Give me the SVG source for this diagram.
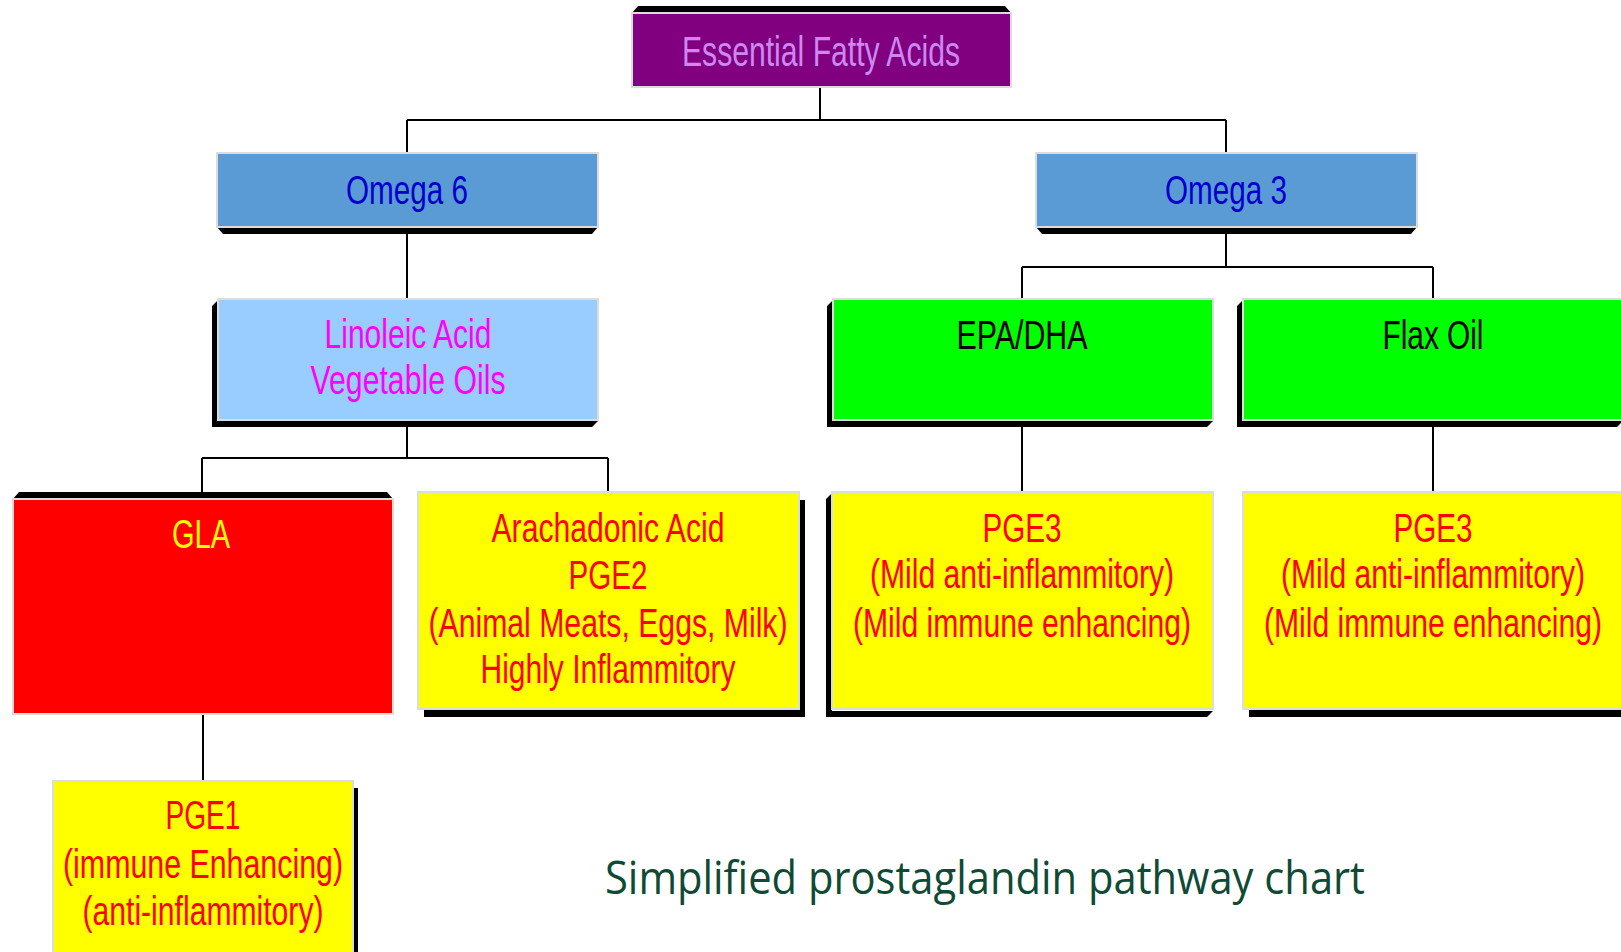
<svg xmlns="http://www.w3.org/2000/svg" width="1621" height="952" viewBox="0 0 1621 952">
<style>
.box{stroke:#dcdcdc;stroke-width:2}
.sh{fill:#000}
.t{font-family:"Liberation Sans Narrow","Liberation Sans",Arial,sans-serif;font-size:40px;text-anchor:middle}
.red{fill:#ff0000}
.cap{font-family:"Open Sans","Noto Sans",sans-serif;font-size:46px;fill:#0f4a35;text-anchor:middle}
.c{stroke:#000;stroke-width:2;fill:none}
</style>
<rect width="1621" height="952" fill="#fff"/>
<g id="connectors">
<path class="c" d="M820,87V120M407,120H1226M407,120V153M1226,120V153"/>
<path class="c" d="M407,234V299"/>
<path class="c" d="M407,427V458M202,458H608M202,458V492M608,458V492"/>
<path class="c" d="M1226,234V267M1022,267H1433M1022,267V299M1433,267V299"/>
<path class="c" d="M1022,427V492M1433,427V492"/>
<path class="c" d="M203,714V781"/>
</g>
<g id="essential">
<polygon class="sh" points="632,13 638,6 1005,6 1011,13"/>
<rect class="box" x="632" y="13" width="379" height="74" fill="#800080"/>
<text class="t" x="821" y="66" style="font-size:43px" fill="#cc88f0" textLength="278" lengthAdjust="spacingAndGlyphs">Essential Fatty Acids</text>
</g>
<g id="omega6">
<polygon class="sh" points="217,227 598,227 592,234 223,234"/>
<rect class="box" x="217" y="153" width="381" height="74" fill="#5b9bd5"/>
<text class="t" x="407" y="204" fill="#0000cc" textLength="122" lengthAdjust="spacingAndGlyphs">Omega 6</text>
</g>
<g id="omega3">
<polygon class="sh" points="1036,227 1417,227 1411,234 1042,234"/>
<rect class="box" x="1036" y="153" width="381" height="74" fill="#5b9bd5"/>
<text class="t" x="1226" y="204" fill="#0000cc" textLength="122" lengthAdjust="spacingAndGlyphs">Omega 3</text>
</g>
<g id="linoleic">
<polygon class="sh" points="218,300 212,306 212,427 592,427 598,421 218,421"/>
<rect class="box" x="218" y="299" width="380" height="121" fill="#99ccff"/>
<text class="t" x="408" y="348" fill="#ff00ff" textLength="167" lengthAdjust="spacingAndGlyphs">Linoleic Acid</text>
<text class="t" x="408" y="394" fill="#ff00ff" textLength="195" lengthAdjust="spacingAndGlyphs">Vegetable Oils</text>
</g>
<g id="gla">
<polygon class="sh" points="13,499 19,492 387,492 393,499"/>
<rect class="box" x="13" y="499" width="380" height="215" fill="#ff0000"/>
<text class="t" x="201" y="548" fill="#ffff00" textLength="58" lengthAdjust="spacingAndGlyphs">GLA</text>
</g>
<g id="arachadonic">
<rect class="sh" x="424" y="500" width="381" height="217"/>
<rect class="box" x="418" y="492" width="381" height="217" fill="#ffff00"/>
<text class="t red" x="608" y="542" textLength="233" lengthAdjust="spacingAndGlyphs">Arachadonic Acid</text>
<text class="t red" x="608" y="589" textLength="79" lengthAdjust="spacingAndGlyphs">PGE2</text>
<text class="t red" x="608" y="637" textLength="359" lengthAdjust="spacingAndGlyphs">(Animal Meats, Eggs, Milk)</text>
<text class="t red" x="608" y="683" textLength="255" lengthAdjust="spacingAndGlyphs">Highly Inflammitory</text>
</g>
<g id="epadha">
<polygon class="sh" points="833,300 827,306 827,427 1207,427 1213,421 833,421"/>
<rect class="box" x="833" y="299" width="380" height="121" fill="#00ff00"/>
<text class="t" x="1022" y="349" fill="#000" textLength="131" lengthAdjust="spacingAndGlyphs">EPA/DHA</text>
</g>
<g id="flax">
<polygon class="sh" points="1243,300 1237,306 1237,427 1617,427 1623,421 1243,421"/>
<rect class="box" x="1243" y="299" width="380" height="121" fill="#00ff00"/>
<text class="t" x="1433" y="349" fill="#000" textLength="101" lengthAdjust="spacingAndGlyphs">Flax Oil</text>
</g>
<g id="pge3a">
<polygon class="sh" points="832,493 826,499 826,717 1207,717 1213,711 832,711"/>
<rect class="box" x="832" y="492" width="381" height="217" fill="#ffff00"/>
<text class="t red" x="1022" y="542" textLength="79" lengthAdjust="spacingAndGlyphs">PGE3</text>
<text class="t red" x="1022" y="588" textLength="304" lengthAdjust="spacingAndGlyphs">(Mild anti-inflammitory)</text>
<text class="t red" x="1022" y="637" textLength="338" lengthAdjust="spacingAndGlyphs">(Mild immune enhancing)</text>
</g>
<g id="pge3b">
<rect class="sh" x="1249" y="500" width="381" height="217"/>
<rect class="box" x="1243" y="492" width="381" height="217" fill="#ffff00"/>
<text class="t red" x="1433" y="542" textLength="79" lengthAdjust="spacingAndGlyphs">PGE3</text>
<text class="t red" x="1433" y="588" textLength="304" lengthAdjust="spacingAndGlyphs">(Mild anti-inflammitory)</text>
<text class="t red" x="1433" y="637" textLength="338" lengthAdjust="spacingAndGlyphs">(Mild immune enhancing)</text>
</g>
<g id="pge1">
<rect class="sh" x="58" y="788" width="300" height="180"/>
<rect class="box" x="53" y="781" width="300" height="180" fill="#ffff00"/>
<text class="t red" x="203" y="829" textLength="75" lengthAdjust="spacingAndGlyphs">PGE1</text>
<text class="t red" x="203" y="878" textLength="280" lengthAdjust="spacingAndGlyphs">(immune Enhancing)</text>
<text class="t red" x="203" y="925" textLength="241" lengthAdjust="spacingAndGlyphs">(anti-inflammitory)</text>
</g>
<g id="caption">
<text class="cap" x="985" y="894" textLength="760" lengthAdjust="spacingAndGlyphs">Simplified prostaglandin pathway chart</text>
</g>
</svg>
